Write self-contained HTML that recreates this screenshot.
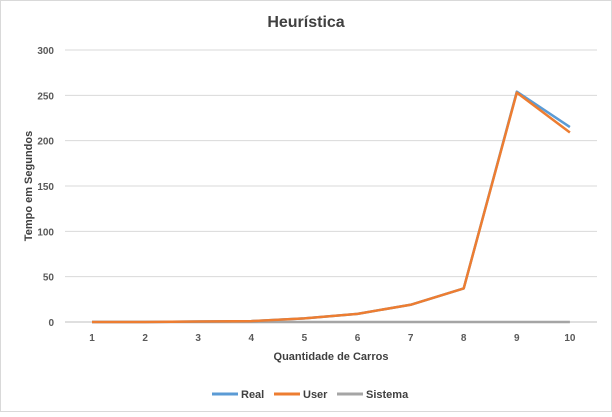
<!DOCTYPE html>
<html><head><meta charset="utf-8"><style>
body{margin:0;background:#fff;font-family:"Liberation Sans",sans-serif}
svg text{font-family:"Liberation Sans",sans-serif}
</style></head><body>
<svg width="612" height="412">
<rect x="0.5" y="0.5" width="611" height="411" fill="#fff" stroke="#d9d9d9"/>
<text x="306" y="27" text-anchor="middle" font-size="16" font-weight="bold" fill="#404040">Heurística</text>
<g id="grid"></g><g id="xt"></g><g id="lines"></g>
<text x="331" y="360" text-anchor="middle" font-size="11" font-weight="bold" fill="#404040">Quantidade de Carros</text>
<text transform="translate(32,186) rotate(-90)" text-anchor="middle" font-size="11" font-weight="bold" fill="#404040">Tempo em Segundos</text>
<g>
<line x1="212" y1="394" x2="238" y2="394" stroke="#5b9bd5" stroke-width="3"/><text x="241" y="398" font-size="11" font-weight="bold" fill="#404040">Real</text>
<line x1="274" y1="394" x2="300" y2="394" stroke="#ed7d31" stroke-width="3"/><text x="303" y="398" font-size="11" font-weight="bold" fill="#404040">User</text>
<line x1="337" y1="394" x2="363" y2="394" stroke="#a5a5a5" stroke-width="3"/><text x="366" y="398" font-size="11" font-weight="bold" fill="#404040">Sistema</text>
</g>
</svg>
<script>
const categories=[1,2,3,4,5,6,7,8,9,10];
const realVals=[0,0,0.5,1,4,9,19,37,254,215];
const userVals=[0,0,0.5,1,4,9,19,37,253,209];
const sistemaVals=[0,0,0,0,0,0,0,0,0,0];
const yTicks=[0,50,100,150,200,250,300];
const ns="http://www.w3.org/2000/svg";
const X=i=>92+i*53.1, Y=v=>322-v*272/300;
function mk(t,a,p){const e=document.createElementNS(ns,t);for(const k in a)e.setAttribute(k,a[k]);p.appendChild(e);return e;}
const g=document.getElementById('grid');
yTicks.forEach(t=>{
 const l=mk('line',{x1:65,x2:597,y1:Y(t),y2:Y(t),stroke:t?'#d9d9d9':'#bfbfbf'},g);
 
 
 const tx=mk('text',{x:54,y:Y(t)+4,'text-anchor':'end','font-size':10,'font-weight':'bold',fill:'#595959'},g);
 tx.textContent=t;
 
 
});
const xt=document.getElementById('xt');
categories.forEach((c,i)=>{
 const tx=mk('text',{x:X(i),y:341,'text-anchor':'middle','font-size':10,'font-weight':'bold',fill:'#595959'},xt);
 tx.textContent=c;
 
 
});
const L=document.getElementById('lines');
[[sistemaVals,'#a5a5a5','line-sistema'],[realVals,'#5b9bd5','line-real'],[userVals,'#ed7d31','line-user']].forEach(([vals,col,name])=>{
 const p=mk('polyline',{points:vals.map((v,i)=>X(i)+','+Y(v)).join(' '),fill:'none',stroke:col,'stroke-width':2.5,'stroke-linejoin':'round'},L);
 
 
});
</script>
</body></html>
